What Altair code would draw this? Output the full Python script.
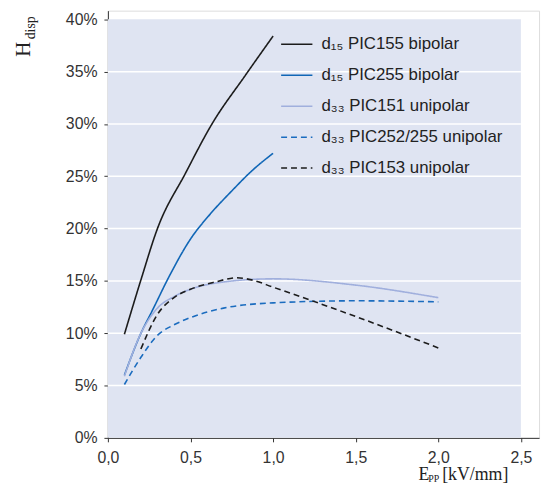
import altair as alt
import pandas as pd

# ---------------- data ----------------
names = [
    "d₁₅ PIC155 bipolar",
    "d₁₅ PIC255 bipolar",
    "d₃₃ PIC151 unipolar",
    "d₃₃ PIC252/255 unipolar",
    "d₃₃ PIC153 unipolar",
]
colors = ["#1c1c1c", "#1066b6", "#a0afdd", "#1b6cbf", "#1c1c1c"]
dashes = [[1, 0], [1, 0], [1, 0], [6, 4], [6, 4]]

pic155_x = [0.1, 0.2, 0.3, 0.47, 0.63, 0.83, 1.0]
pic155_y = [9.9, 15.1, 20.0, 25.3, 30.0, 34.6, 38.4]

pic255_x = [0.1, 0.2, 0.27, 0.37, 0.5, 0.62, 0.75, 0.87, 1.0]
pic255_y = [6.0, 10.0, 12.2, 15.4, 19.0, 21.4, 23.6, 25.5, 27.2]

pic151_x = [0.1, 0.2, 0.3, 0.4, 0.5, 0.7, 1.0, 1.5, 2.0]
pic151_y = [5.9, 10.0, 12.4, 13.5, 14.2, 14.9, 15.2, 14.6, 13.4]

pic252_x = [0.1, 0.2, 0.3, 0.4, 0.5, 0.7, 1.0, 1.5, 2.0]
pic252_y = [5.1, 7.7, 9.8, 10.8, 11.5, 12.4, 12.9, 13.1, 13.0]

pic153_x = [0.2, 0.3, 0.4, 0.5, 0.65, 0.78, 0.87, 1.0, 1.5, 2.0]
pic153_y = [8.5, 11.8, 13.4, 14.2, 14.9, 15.3, 15.1, 14.4, 11.6, 8.6]

x_ticks = [0.0, 0.5, 1.0, 1.5, 2.0, 2.5]
y_ticks = [0, 5, 10, 15, 20, 25, 30, 35, 40]
grid_y = [5, 10, 15, 20, 25, 30, 35]

series = [
    (names[0], pic155_x, pic155_y),
    (names[1], pic255_x, pic255_y),
    (names[2], pic151_x, pic151_y),
    (names[3], pic252_x, pic252_y),
    (names[4], pic153_x, pic153_y),
]
rows = []
for n, xs, ys in series:
    for i, (a, b) in enumerate(zip(xs, ys)):
        rows.append({"s": n, "x": a, "y": b, "o": i})
df = pd.DataFrame(rows)

XDOM = [0, 2.61]
YDOM = [0, 40.83]
W, H = 436, 432

xsc = alt.Scale(domain=XDOM, nice=False, zero=False)
ysc = alt.Scale(domain=YDOM, nice=False, zero=False)

sans = "Liberation Sans"
serif = "Liberation Serif"

bg = alt.Chart(pd.DataFrame({"x": [0], "x2": [2.5], "y": [0], "y2": [40]})).mark_rect(
    color="#dfe4f2"
).encode(
    x=alt.X("x:Q", scale=xsc, axis=alt.Axis(
        values=x_ticks, title=None, grid=False,
        labelExpr="replace(format(datum.value, '.1f'), '.', ',')",
        labelFont=sans, labelFontSize=16, labelColor="#333",
        labelPadding=8, tickSize=4, tickColor="#333", domainColor="#333",
        labelFlush=False)),
    x2="x2:Q",
    y=alt.Y("y:Q", scale=ysc, axis=alt.Axis(
        values=y_ticks, title=None, grid=False,
        labelExpr="datum.value + '%'",
        labelFont=sans, labelFontSize=16, labelColor="#333",
        labelPadding=7, tickSize=4, tickColor="#333", domainColor="#333")),
    y2="y2:Q",
)

grid = alt.Chart(pd.DataFrame({"y": grid_y, "x": [0] * len(grid_y), "x2": [2.5] * len(grid_y)})).mark_rule(
    color="white", strokeWidth=1.5
).encode(
    x=alt.X("x:Q", scale=xsc), x2="x2:Q", y=alt.Y("y:Q", scale=ysc)
)

legend = alt.Legend(
    title=None, orient="none", legendX=174, legendY=17,
    symbolType="stroke", symbolSize=1000, symbolStrokeWidth=1.5,
    labelFont=sans, labelFontSize=17, labelColor="#222", labelOffset=8,
    rowPadding=6.3, labelLimit=400,
)

lines = alt.Chart(df).mark_line(strokeWidth=1.6, interpolate="monotone").encode(
    x=alt.X("x:Q", scale=xsc),
    y=alt.Y("y:Q", scale=ysc),
    color=alt.Color("s:N", scale=alt.Scale(domain=names, range=colors), sort=names, legend=legend),
    strokeDash=alt.StrokeDash("s:N", scale=alt.Scale(domain=names, range=dashes), sort=names, legend=legend),
    order="o:Q",
)

ytitle_h = alt.Chart(pd.DataFrame({"t": ["H"]})).mark_text(
    font=serif, fontSize=21, angle=270, align="center", baseline="alphabetic", color="#222"
).encode(text="t:N", x=alt.value(-79), y=alt.value(39))
ytitle_sub = alt.Chart(pd.DataFrame({"t": ["disp"]})).mark_text(
    font=serif, fontSize=14, angle=270, align="left", baseline="alphabetic", color="#222"
).encode(text="t:N", x=alt.value(-74), y=alt.value(29))

xtitle_e = alt.Chart(pd.DataFrame({"t": ["E"]})).mark_text(
    font=serif, fontSize=18, align="left", baseline="alphabetic", color="#222"
).encode(text="t:N", x=alt.value(314), y=alt.value(475))
xtitle_sub = alt.Chart(pd.DataFrame({"t": ["PP"]})).mark_text(
    font=serif, fontSize=10, align="left", baseline="alphabetic", color="#222"
).encode(text="t:N", x=alt.value(324), y=alt.value(477))
xtitle_unit = alt.Chart(pd.DataFrame({"t": ["[kV/mm]"]})).mark_text(
    font=serif, fontSize=18, align="left", baseline="alphabetic", color="#222"
).encode(text="t:N", x=alt.value(338), y=alt.value(475))

chart = alt.layer(
    bg, grid, lines, ytitle_h, ytitle_sub, xtitle_e, xtitle_sub, xtitle_unit
).properties(
    width=W, height=H,
    autosize=alt.AutoSizeParams(type="none"),
    padding={"left": 101, "top": 0, "right": 5, "bottom": 48},
).configure_view(stroke=None).configure(background="white")

chart.save("out.html", embed_options={"renderer": "svg", "actions": False})
